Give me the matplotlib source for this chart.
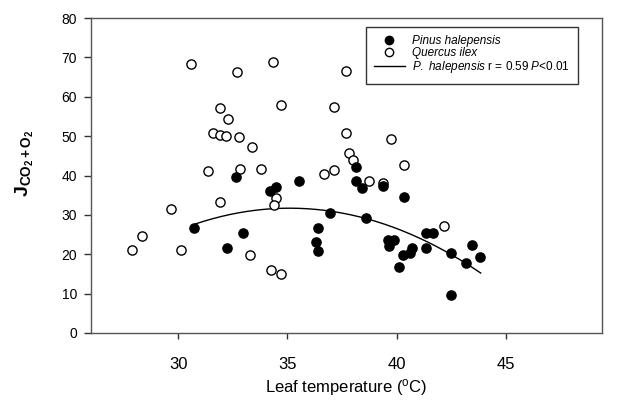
import numpy as np
import matplotlib
matplotlib.use("Agg")
import matplotlib.pyplot as plt
from matplotlib.lines import Line2D

plt.rcParams['font.family'] = ['Liberation Sans', 'DejaVu Sans']
plt.rcParams['mathtext.fontset'] = 'custom'
plt.rcParams['mathtext.rm'] = 'Liberation Sans'
plt.rcParams['mathtext.it'] = 'Liberation Sans:italic'
plt.rcParams['mathtext.bf'] = 'Liberation Sans:bold'

# Quercus ilex (open circles)
qi_temp = [27.88, 28.34, 29.68, 30.14, 30.59, 31.34, 31.61, 31.89, 32.19, 32.76,
           31.89, 32.27, 32.68, 31.93, 32.83, 33.38, 33.80, 33.28, 34.33, 34.70,
           34.49, 34.38, 34.25, 34.70, 36.69, 37.13, 37.12, 37.70, 37.70, 37.82,
           38.00, 38.73, 39.37, 39.75, 40.32, 42.16]
qi_j = [21.2, 24.6, 31.5, 21.2, 68.2, 41.2, 50.9, 50.4, 50.0, 49.8,
        57.1, 54.3, 66.2, 33.2, 41.7, 47.3, 41.6, 19.9, 68.8, 57.8,
        34.4, 32.6, 16.1, 15.1, 40.3, 41.3, 57.3, 66.6, 50.8, 45.8,
        43.9, 38.6, 38.1, 49.2, 42.7, 27.2]

# Pinus halepensis (filled circles)
ph_temp = [30.70, 32.25, 32.63, 32.96, 34.22, 34.47, 35.53, 36.40, 36.30, 36.42,
           36.94, 38.13, 38.13, 38.40, 39.36, 40.33, 38.60, 39.59, 39.89, 39.66,
           41.33, 41.67, 40.70, 40.29, 40.62, 40.12, 41.33, 42.48, 43.44, 43.20,
           43.81, 42.47]
ph_j = [26.6, 21.7, 39.6, 25.4, 36.1, 37.0, 38.7, 26.6, 23.0, 20.7,
        30.5, 42.2, 38.6, 36.9, 37.4, 34.6, 29.2, 23.7, 23.5, 22.1,
        25.4, 25.4, 21.6, 19.8, 20.2, 16.7, 21.7, 20.3, 22.4, 17.9,
        19.2, 9.6]

# quadratic regression for P. halepensis (vertex form: peak, peak temp, curvature)
fit_peak = 31.7
fit_peak_t = 35.1
fit_curv = 0.215
fit_range = [30.8, 43.85]

x_ticks = [30, 35, 40, 45]
y_ticks = [0, 10, 20, 30, 40, 50, 60, 70, 80]

fig = plt.figure(figsize=(6.23, 4.03), dpi=100)
ax = fig.add_axes([0.146, 0.1737, 0.820, 0.7816])

ax.scatter(qi_temp, qi_j, s=44, facecolors='white', edgecolors='black',
           linewidths=1.0, zorder=3)
ax.scatter(ph_temp, ph_j, s=44, facecolors='black', edgecolors='black',
           linewidths=1.0, zorder=4)

xf = np.linspace(fit_range[0], fit_range[1], 200)
yf = fit_peak - fit_curv * (xf - fit_peak_t) ** 2
ax.plot(xf, yf, color='black', lw=1.0, zorder=2)

ax.set_xlim(26.0, 49.4)
ax.set_ylim(0, 80)
ax.set_xticks(x_ticks)
ax.set_yticks(y_ticks)
ax.tick_params(axis='x', labelsize=12, direction='out', length=4, width=1, pad=13,
               colors='#333333', labelcolor='black')
ax.tick_params(axis='y', labelsize=10, direction='out', length=5, width=1, pad=5,
               colors='#333333', labelcolor='black')
for sp in ax.spines.values():
    sp.set_color('#555555')
    sp.set_linewidth(1.0)

ax.set_xlabel('Leaf temperature ($^{\\rm o}$C)', fontsize=12, labelpad=4)
ax.set_ylabel(r'$\mathbf{J}_{\mathbf{CO_2+O_2}}$', fontsize=14)
ax.yaxis.set_label_coords(-0.108, 0.54)

handles = [
    Line2D([], [], marker='o', ls='none', markerfacecolor='black', markeredgecolor='black', markersize=6),
    Line2D([], [], marker='o', ls='none', markerfacecolor='white', markeredgecolor='black', markersize=6),
    Line2D([], [], color='black', lw=1.0),
]
labels = ['Pinus halepensis', 'Quercus ilex',
          r'$\it{P.\ halepensis}$ r = 0.59 $\it{P}$<0.01']
leg = ax.legend(handles, labels, loc='upper left', bbox_to_anchor=(0.538, 0.971),
                fontsize=8.5, frameon=True, fancybox=False, handlelength=2.6,
                handletextpad=0.6, labelspacing=0.0, borderpad=0.7,
                borderaxespad=0)
leg.get_texts()[0].set_fontstyle('italic')
leg.get_texts()[1].set_fontstyle('italic')
leg.get_frame().set_edgecolor('black')
leg.get_frame().set_linewidth(1.0)

fig.savefig('out.png', dpi=100)
